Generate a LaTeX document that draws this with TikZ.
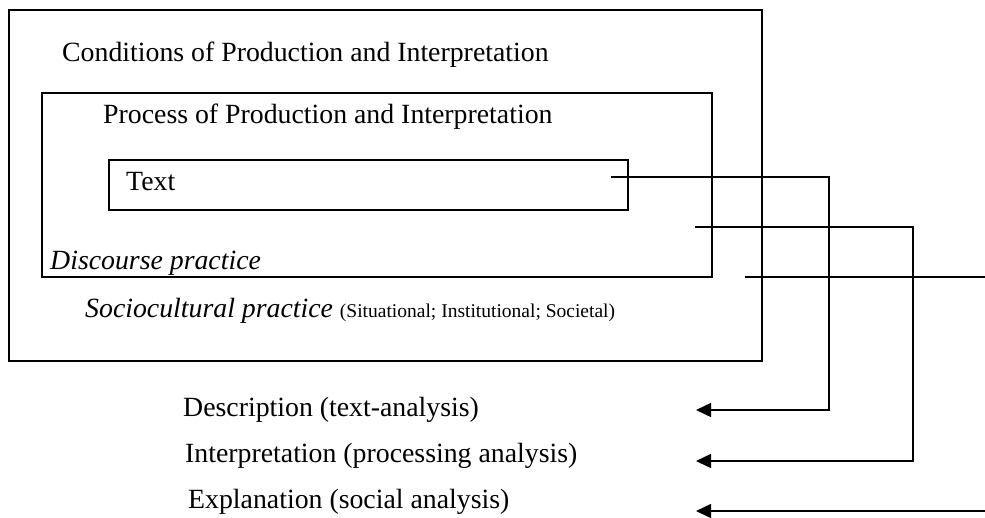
\documentclass[tikz,border=0pt]{standalone}
\usepackage{fontspec}
\setmainfont{Liberation Serif}
\usetikzlibrary{arrows.meta}
\begin{document}
\begin{tikzpicture}[x=1pt,y=-1pt,
  frame/.style={draw,line width=1.5pt,inner sep=0pt,outer sep=0pt},
  lbl/.style={anchor=base west,inner sep=0pt,font=\fontsize{27.8}{32}\selectfont},
  conn/.style={line width=1.5pt},
  arr/.style={line width=1.5pt,-{Triangle[length=15pt,width=14pt]}}]
\useasboundingbox (0,0) rectangle (985,517);
% boxes
\node[frame,minimum width=753pt,minimum height=351pt] (outer) at (385.5,185.5) {};
\node[frame,minimum width=670pt,minimum height=184pt] (inner) at (377,185) {};
\node[frame,minimum width=519pt,minimum height=50pt] (textbox) at (368.5,185) {};
% labels
\node[lbl] (cond) at (62,61) {Conditions of Production and Interpretation};
\node[lbl] (proc) at (103,123) {Process of Production and Interpretation};
\node[lbl] (text) at (126,190) {Text};
\node[lbl] (disc) at (50,269) {\itshape Discourse practice};
\node[lbl] (socio) at (85,317) {\itshape Sociocultural practice \normalfont\fontsize{19.5}{23}\selectfont(Situational; Institutional; Societal)};
\node[lbl] (descr) at (183,416) {Description (text-analysis)};
\node[lbl] (interp) at (185,462) {Interpretation (processing analysis)};
\node[lbl] (expl) at (188,508) {Explanation (social analysis)};
% connector points
\coordinate (s1) at (611,177);
\coordinate (c1) at (829,177);
\coordinate (e1) at (696,410);
\coordinate (s2) at (695,227);
\coordinate (c2) at (913,227);
\coordinate (e2) at (696,461);
\coordinate (s3) at (745,277);
\coordinate (f3) at (985,277);
\coordinate (s4) at (985,511);
\coordinate (e4) at (696,511);
\draw[arr] (s1) -- (c1) |- (e1);
\draw[arr] (s2) -- (c2) |- (e2);
\draw[conn] (s3) -- (f3);
\draw[arr] (s4) -- (e4);
\end{tikzpicture}
\end{document}
